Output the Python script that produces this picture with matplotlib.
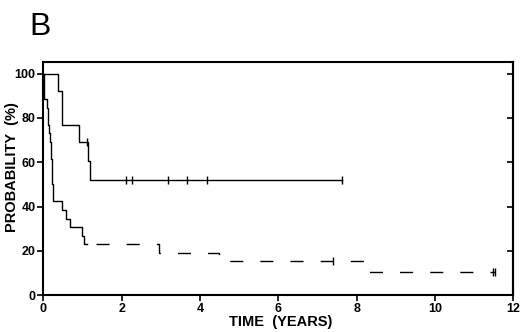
#!/usr/bin/env python3
import matplotlib
matplotlib.use("Agg")
import matplotlib.pyplot as plt

plt.rcParams["font.family"] = ["Liberation Sans", "DejaVu Sans"]

# solid curve (Kaplan-Meier steps)
solid_t = [0, 0.38, 0.485, 0.91, 1.14, 1.18, 7.62]
solid_s = [100, 92.3, 76.9, 69.2, 60.5, 51.9, 51.9]
solid_cens_t = [1.12, 2.11, 2.26, 3.19, 3.68, 4.17, 7.62]
solid_cens_s = [69.2, 51.9, 51.9, 51.9, 51.9, 51.9, 51.9]

# dashed curve
dash_t = [0, 0.01, 0.09, 0.12, 0.13, 0.14, 0.16, 0.19, 0.20, 0.21, 0.22, 0.23,
          0.26, 0.48, 0.58, 0.68, 1.0, 1.04, 2.96, 4.49, 8.2, 11.53]
dash_s = [100, 88.5, 84.6, 80.8, 76.9, 73.1, 69.2, 65.4, 61.5, 57.7, 53.8, 50.0,
          42.3, 38.5, 34.6, 30.8, 26.9, 23.1, 19.2, 15.4, 10.3, 10.3]
dash_cens_t = [7.40, 11.47, 11.53]
dash_cens_s = [15.4, 10.3, 10.3]
dash_split = 1.12  # steep early part looks unbroken

x_ticks = [0, 2, 4, 6, 8, 10, 12]
y_ticks = [0, 20, 40, 60, 80, 100]

fig = plt.figure(figsize=(5.2, 3.32), dpi=100)
ax = fig.add_axes([0.0833, 0.1105, 0.9039, 0.7028])

ax.step(solid_t, solid_s, where="post", color="black", lw=1.0)
ax.plot(solid_cens_t, solid_cens_s, "|", color="black", ms=6, mew=1.0)

# dashed group: early part drawn continuous, rest dashed
early_t = [t for t in dash_t if t < dash_split] + [dash_split]
early_s = [s for t, s in zip(dash_t, dash_s) if t < dash_split]
early_s = early_s + [early_s[-1]]
late_t = [dash_split] + [t for t in dash_t if t >= dash_split]
late_s = [early_s[-1]] + [s for t, s in zip(dash_t, dash_s) if t >= dash_split]
ax.step(early_t, early_s, where="post", color="black", lw=1.0)
ln, = ax.step(late_t, late_s, where="post", color="black", lw=1.0)
ln.set_dashes((0, 6.5, 9.4, 5.8))
ax.plot(dash_cens_t, dash_cens_s, "|", color="black", ms=6, mew=1.0)

ax.set_xlim(0, 12)
ax.set_ylim(0, 105.2)
ax.set_xticks(x_ticks)
ax.set_yticks(y_ticks)
ax.set_xticklabels([str(v) for v in x_ticks], fontweight="bold", fontsize=9)
ax.set_yticklabels([str(v) for v in y_ticks], fontweight="bold", fontsize=9)
ax.tick_params(axis="both", direction="out", length=4, width=1.2, pad=1.5)

# right-hand ticks pointing inward
axr = ax.secondary_yaxis("right")
axr.set_yticks(y_ticks)
axr.set_yticklabels([])
axr.tick_params(direction="in", length=4, width=1.2)

for s in ax.spines.values():
    s.set_linewidth(1.5)
axr.spines["right"].set_linewidth(1.5)

ax.set_xlabel("TIME  (YEARS)", fontweight="bold", fontsize=10.5)
ax.set_ylabel("PROBABILITY  (%)", fontweight="bold", fontsize=10.5)
ax.xaxis.set_label_coords(0.504, -0.085)
ax.yaxis.set_label_coords(-0.052, 0.55)

fig.text(0.057, 0.8946, "B", fontsize=23, va="baseline", ha="left")

fig.savefig("out.png", dpi=100)
